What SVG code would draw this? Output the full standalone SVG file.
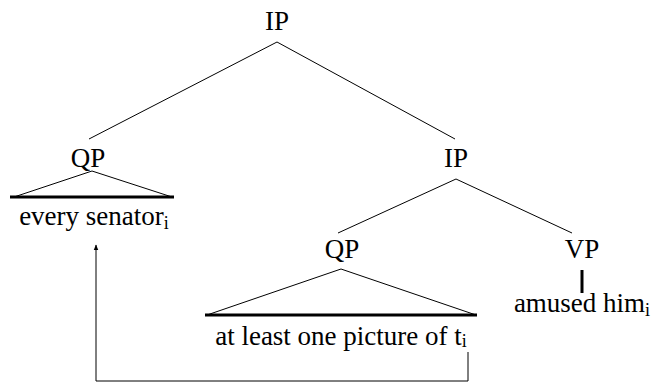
<svg xmlns="http://www.w3.org/2000/svg" width="658" height="385" viewBox="0 0 658 385">
<defs>
<style>
text{font-family:"Liberation Serif","Times New Roman",serif;font-size:27px;fill:#000;text-anchor:middle}
.sub{font-size:18px}
.e{stroke:#000;stroke-width:1;fill:none}
.base{stroke:#000;stroke-width:3;fill:none}
</style>
<marker id="ah" viewBox="0 0 10 10" refX="9" refY="5" markerWidth="6" markerHeight="6" orient="auto-start-reverse">
<path d="M0,1 L10,5 L0,9 z" fill="#000"/>
</marker>
</defs>
<rect width="658" height="385" fill="#fff"/>
<g id="ip-top"><text x="277" y="30">IP</text></g>
<g id="qp-left">
<text x="88" y="167">QP</text>
<path class="e" d="M14,197 L92,171 L172,197"/>
<line class="base" x1="10" y1="197" x2="174" y2="197"/>
<text x="94" y="225">every senator<tspan class="sub" dy="4">i</tspan></text>
</g>
<g id="ip-mid"><text x="456" y="167">IP</text></g>
<g id="qp-low">
<text x="342" y="258">QP</text>
<path class="e" d="M207,315 L341,269 L476,315"/>
<line class="base" x1="205" y1="315" x2="477" y2="315"/>
<text x="341" y="345">at least one picture of t<tspan class="sub" dy="2">i</tspan></text>
</g>
<g id="vp">
<text x="582" y="258">VP</text>
<line class="base" x1="582" y1="270" x2="582" y2="293"/>
<text x="582" y="312">amused him<tspan class="sub" dy="4">i</tspan></text>
</g>
<g id="connectors">
<line class="e" x1="277" y1="42" x2="89" y2="139"/>
<line class="e" x1="277" y1="42" x2="455" y2="139"/>
<line class="e" x1="456" y1="179" x2="338" y2="233"/>
<line class="e" x1="456" y1="179" x2="572" y2="233"/>
<polyline class="e" points="468,352 468,381 96,381 96,245" marker-end="url(#ah)"/>
</g>
</svg>
